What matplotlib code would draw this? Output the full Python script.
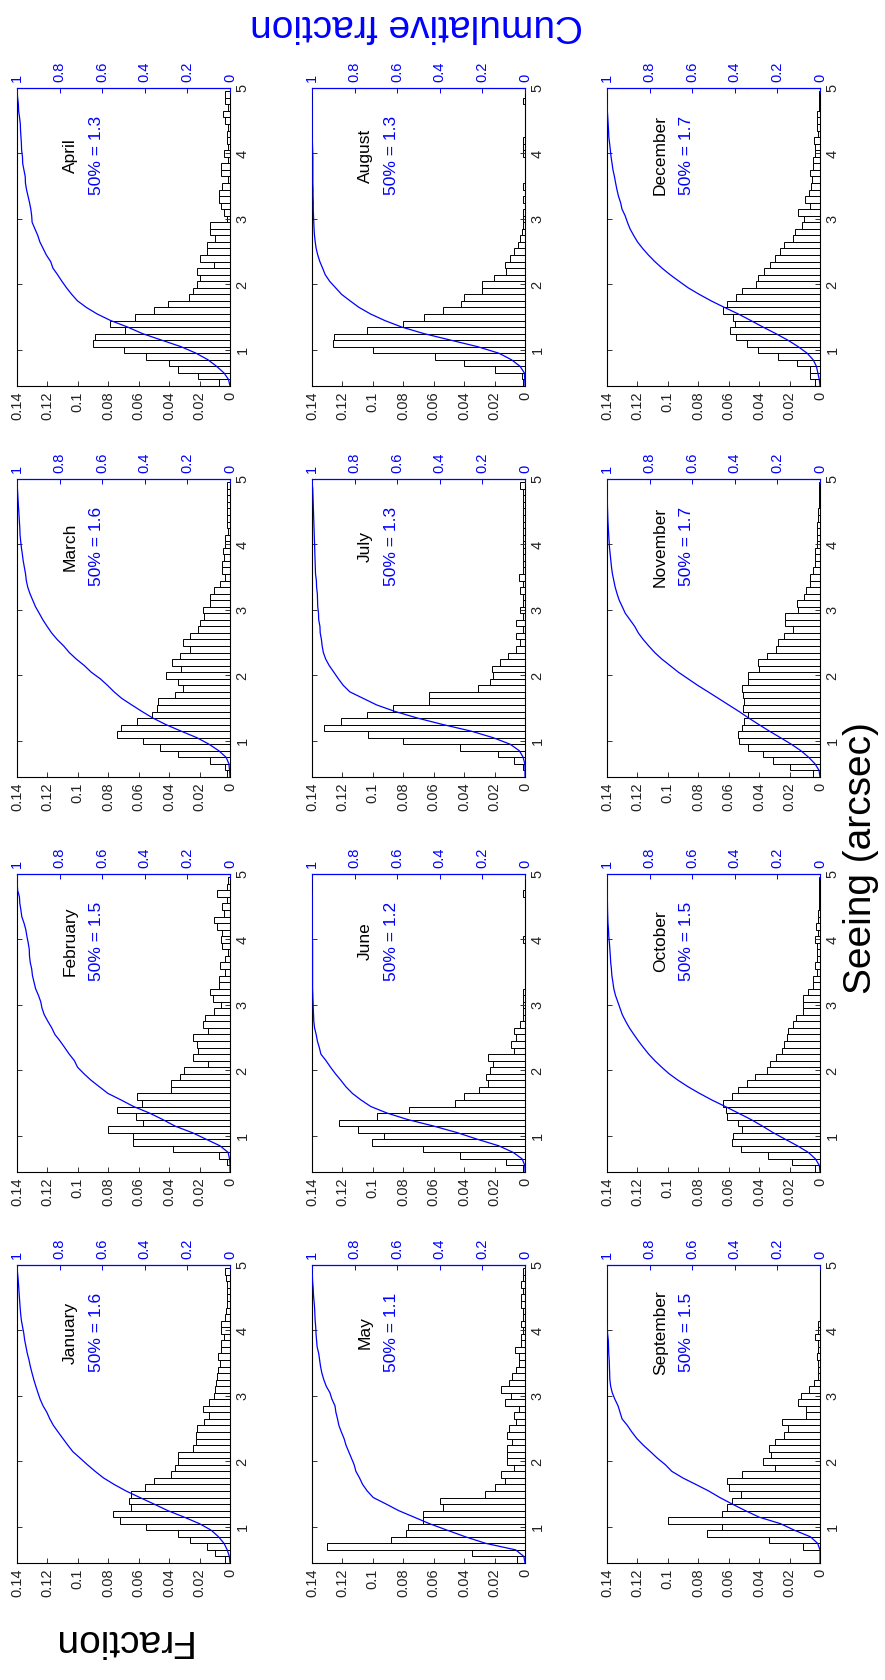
import numpy as np
import matplotlib
matplotlib.use('Agg')
import matplotlib.pyplot as plt

plt.rcParams['font.family'] = ['Liberation Sans', 'DejaVu Sans']

# bin centres of the seeing histograms (arcsec)
bin_centres = [0.5, 0.6, 0.7, 0.8, 0.9, 1.0, 1.1, 1.2, 1.3, 1.4, 1.5, 1.6, 1.7, 1.8, 1.9,
               2.0, 2.1, 2.2, 2.3, 2.4, 2.5, 2.6, 2.7, 2.8, 2.9, 3.0, 3.1, 3.2, 3.3, 3.4,
               3.5, 3.6, 3.7, 3.8, 3.9, 4.0, 4.1, 4.2, 4.3, 4.4, 4.5, 4.6, 4.7, 4.8, 4.9]

months = ['January', 'February', 'March', 'April', 'May', 'June',
          'July', 'August', 'September', 'October', 'November', 'December']
medians = ['1.6', '1.5', '1.6', '1.3', '1.1', '1.2', '1.3', '1.3', '1.5', '1.5', '1.7', '1.7']

jan = [0.003, 0.010, 0.015, 0.026, 0.034, 0.055, 0.072, 0.077, 0.065, 0.0665,
       0.065, 0.056, 0.050, 0.039, 0.036, 0.034, 0.0345, 0.024, 0.0226, 0.0226,
       0.022, 0.017, 0.0138, 0.018, 0.0136, 0.0105, 0.0099, 0.0094, 0.0083, 0.0079,
       0.0064, 0.0079, 0.0061, 0.0061, 0.004, 0.0057, 0.0057, 0.0035, 0.0026, 0.0022,
       0.0022, 0.0020, 0.0022, 0.0026, 0.0035]
feb = [0.0, 0.002, 0.007, 0.0375, 0.064, 0.064, 0.080, 0.057, 0.062, 0.074,
       0.058, 0.061, 0.039, 0.039, 0.033, 0.030, 0.0145, 0.024, 0.021, 0.0215,
       0.024, 0.0145, 0.018, 0.0167, 0.0105, 0.006, 0.011, 0.013, 0.0072, 0.0072,
       0.0035, 0.0068, 0.0035, 0.001, 0.005, 0.006, 0.005, 0.0083, 0.0105, 0.004,
       0.005, 0.0018, 0.0083, 0.002, 0.001]
mar = [0.002, 0.003, 0.013, 0.034, 0.046, 0.057, 0.074, 0.0715, 0.061, 0.051,
       0.048, 0.047, 0.036, 0.031, 0.034, 0.042, 0.032, 0.038, 0.033, 0.026,
       0.031, 0.026, 0.021, 0.020, 0.017, 0.0175, 0.013, 0.013, 0.0105, 0.0066,
       0.0035, 0.0055, 0.0055, 0.004, 0.0044, 0.0035, 0.003, 0.001, 0.002, 0.0018,
       0.002, 0.0018, 0.0018, 0.0018, 0.002]
apr = [0.007, 0.021, 0.034, 0.040, 0.055, 0.070, 0.090, 0.089, 0.069, 0.079,
       0.0625, 0.050, 0.041, 0.027, 0.024, 0.0215, 0.020, 0.0215, 0.0105, 0.020,
       0.015, 0.015, 0.010, 0.013, 0.013, 0.002, 0.004, 0.006, 0.007, 0.007,
       0.005, 0.001, 0.006, 0.0057, 0.001, 0.004, 0.001, 0.002, 0.002, 0.001,
       0.0035, 0.0044, 0.001, 0.0035, 0.003]
may = [0.005, 0.035, 0.130, 0.088, 0.078, 0.077, 0.067, 0.067, 0.054, 0.056,
       0.026, 0.020, 0.0134, 0.0156, 0.0075, 0.0118, 0.0118, 0.0118, 0.0083, 0.0118,
       0.0105, 0.006, 0.007, 0.004, 0.013, 0.009, 0.016, 0.0105, 0.0083, 0.0057,
       0.004, 0.004, 0.0068, 0.0024, 0.0024, 0.0013, 0.0024, 0.0013, 0.0013, 0.0024,
       0.0024, 0.0013, 0.0024, 0.0013, 0.0013]
jun = [0.001, 0.0123, 0.0426, 0.067, 0.1005, 0.093, 0.110, 0.122, 0.0975, 0.0763,
       0.0459, 0.040, 0.030, 0.024, 0.0255, 0.023, 0.021, 0.024, 0.0075, 0.009,
       0.0057, 0.0075, 0.0035, 0.0013, 0.0013, 0.001, 0.001, 0.0013, 0.0, 0.0,
       0.0, 0.0, 0.0, 0.0, 0.0, 0.0013, 0.0, 0.0, 0.0, 0.0,
       0.0, 0.0, 0.0013, 0.0, 0.0]
jul = [0.0, 0.001, 0.0075, 0.0178, 0.043, 0.080, 0.103, 0.132, 0.121, 0.104,
       0.087, 0.063, 0.063, 0.031, 0.023, 0.021, 0.0215, 0.0167, 0.011, 0.0057,
       0.0035, 0.0057, 0.0013, 0.0057, 0.001, 0.0035, 0.001, 0.001, 0.0035, 0.001,
       0.004, 0.001, 0.001, 0.001, 0.001, 0.001, 0.001, 0.001, 0.001, 0.001,
       0.001, 0.001, 0.001, 0.001, 0.0035]
aug = [0.001, 0.002, 0.020, 0.040, 0.059, 0.100, 0.1265, 0.1257, 0.104, 0.080,
       0.0667, 0.0538, 0.042, 0.040, 0.028, 0.028, 0.0206, 0.0123, 0.013, 0.0097,
       0.0075, 0.0044, 0.0035, 0.002, 0.0013, 0.0013, 0.001, 0.0, 0.001, 0.0,
       0.001, 0.0, 0.0, 0.0, 0.0, 0.001, 0.001, 0.001, 0.0, 0.0,
       0.0, 0.0, 0.0, 0.001, 0.0]
sep = [0.0, 0.0, 0.011, 0.0336, 0.0746, 0.0647, 0.0998, 0.0647, 0.061, 0.058,
       0.052, 0.060, 0.061, 0.051, 0.0296, 0.0373, 0.0325, 0.0336, 0.0296, 0.0235,
       0.0208, 0.0248, 0.0094, 0.0094, 0.0147, 0.0123, 0.0075, 0.0037, 0.001, 0.001,
       0.001, 0.0022, 0.001, 0.001, 0.0035, 0.0013, 0.0013, 0.0, 0.0, 0.0,
       0.0, 0.0, 0.0, 0.0, 0.0]
oct_ = [0.003, 0.0187, 0.034, 0.0516, 0.058, 0.057, 0.051, 0.054, 0.0614, 0.062,
        0.064, 0.058, 0.054, 0.048, 0.043, 0.035, 0.033, 0.029, 0.025, 0.0237,
        0.022, 0.021, 0.0176, 0.016, 0.011, 0.011, 0.011, 0.0077, 0.0044, 0.0048,
        0.0022, 0.0033, 0.0018, 0.0022, 0.0022, 0.003, 0.0013, 0.0026, 0.001, 0.001,
        0.0005, 0.0005, 0.0005, 0.0005, 0.0005]
nov = [0.0044, 0.0198, 0.0307, 0.0377, 0.047, 0.053, 0.054, 0.051, 0.050, 0.047,
       0.0505, 0.050, 0.0505, 0.051, 0.047, 0.047, 0.040, 0.0405, 0.0347, 0.029,
       0.0274, 0.0237, 0.0176, 0.023, 0.023, 0.0147, 0.015, 0.0105, 0.0092, 0.0066,
       0.0066, 0.0044, 0.0033, 0.0033, 0.0033, 0.002, 0.002, 0.0018, 0.0018, 0.0011,
       0.0011, 0.0007, 0.0007, 0.0005, 0.0005]
dec = [0.0033, 0.0066, 0.0066, 0.015, 0.0274, 0.041, 0.048, 0.0555, 0.059, 0.056,
       0.0575, 0.064, 0.061, 0.055, 0.051, 0.042, 0.041, 0.037, 0.033, 0.0296,
       0.0263, 0.0237, 0.018, 0.0165, 0.012, 0.0105, 0.0143, 0.0066, 0.0099, 0.007,
       0.006, 0.0055, 0.0066, 0.0044, 0.0044, 0.0033, 0.0033, 0.0037, 0.0013, 0.0018,
       0.0018, 0.002, 0.0005, 0.0005, 0.0005]

fractions = [jan, feb, mar, apr, may, jun, jul, aug, sep, oct_, nov, dec]

frac_ticks = [0, 0.02, 0.04, 0.06, 0.08, 0.1, 0.12, 0.14]
frac_labels = ['0', '0.02', '0.04', '0.06', '0.08', '0.1', '0.12', '0.14']
cum_ticks = [0, 0.2, 0.4, 0.6, 0.8, 1]
cum_labels = ['0', '0.2', '0.4', '0.6', '0.8', '1']
seeing_ticks = [1, 2, 3, 4, 5]

FW, FH = 885, 1680
fig = plt.figure(figsize=(FW / 100, FH / 100), dpi=100)

col_left = [17, 312, 607]
row_top = [88, 479, 874, 1265]
pw, ph = 213, 298

for m in range(12):
    c = m // 4
    r = 3 - m % 4
    ax = fig.add_axes([col_left[c] / FW, 1 - (row_top[r] + ph) / FH, pw / FW, ph / FH])
    fr = np.array(fractions[m])
    ax.barh(bin_centres, fr, height=0.1, color='white', edgecolor='black', linewidth=0.7)
    ax.set_xlim(0.14, 0)
    ax.set_ylim(0.45, 5)
    ax.set_xticks(frac_ticks)
    ax.set_xticklabels(frac_labels)
    ax.set_yticks(seeing_ticks)
    ax.set_yticklabels([str(t) for t in seeing_ticks])
    ax.yaxis.tick_right()
    ax.tick_params(axis='both', direction='in', length=3.5, width=0.7, labelsize=10.5,
                   colors='#333333', labelcolor='#222222')
    ax.tick_params(axis='y', left=True, right=True, labelleft=False, labelright=True,
                   labelrotation=90, pad=4)
    ax.tick_params(axis='x', labelrotation=90, pad=4)
    for lab in ax.get_yticklabels():
        lab.set_va('center')
    for s in ['left', 'right', 'bottom']:
        ax.spines[s].set_linewidth(0.8)
    ax.spines['top'].set_visible(False)

    # cumulative fraction on the twin axis
    edges = [0.45] + [b + 0.05 for b in bin_centres]
    cum = np.concatenate([[0.0], np.cumsum(fr)]) / fr.sum()
    ax2 = ax.twiny()
    ax2.plot(cum, edges, color='blue', lw=0.9)
    ax2.set_xlim(1, 0)
    ax2.set_ylim(0.45, 5)
    ax2.set_xticks(cum_ticks)
    ax2.set_xticklabels(cum_labels)
    ax2.tick_params(axis='x', direction='in', length=3.5, width=0.7, labelsize=10.5,
                    colors='blue', labelrotation=90, pad=4)
    for s in ['left', 'right', 'bottom']:
        ax2.spines[s].set_visible(False)
    ax2.spines['top'].set_color('blue')
    ax2.spines['top'].set_linewidth(0.9)

    ax.text(0.105, 3.97, months[m], rotation=90, ha='center', va='center', fontsize=12.5)
    ax.text(0.088, 3.97, '50% = ' + medians[m], rotation=90, ha='center', va='center',
            fontsize=12.5, color='blue')

fig.text(861 / FW, 1 - 858 / FH, 'Seeing (arcsec)', rotation=90, ha='center', va='center',
         fontsize=28)
fig.text(417 / FW, 1 - 25 / FH, 'Cumulative fraction', rotation=180, ha='center',
         va='center', fontsize=28, color='blue')
fig.text(120 / FW, 1 - 1640 / FH, 'Fraction', rotation=180, ha='center', va='center',
         fontsize=28)

fig.savefig('out.png', dpi=100)
